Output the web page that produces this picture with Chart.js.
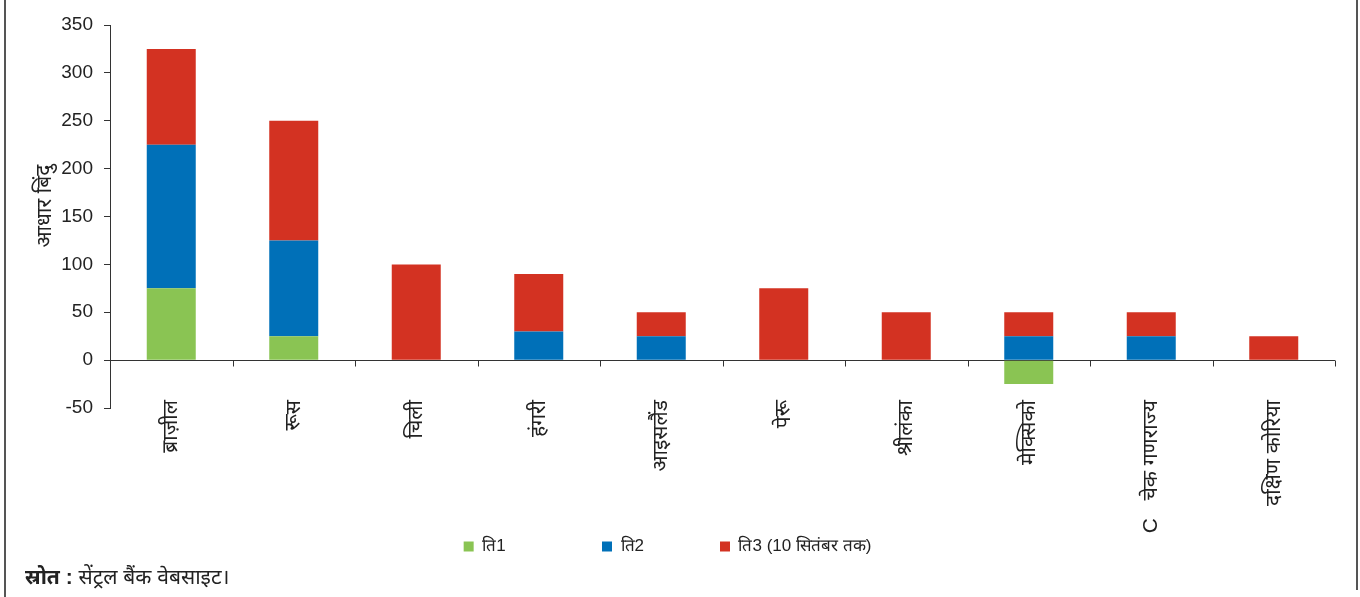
<!DOCTYPE html>
<html lang="hi">
<head>
<meta charset="utf-8">
<script src="https://cdn.jsdelivr.net/npm/chart.js@4/dist/chart.umd.min.js"></script>
<style>
  html, body { margin: 0; padding: 0; background: #ffffff; }
  #wrap { width: 1360px; height: 597px; position: relative; }
</style>
</head>
<body>
<div id="wrap"><canvas id="c" width="1360" height="597"></canvas></div>
<script>
// देश (श्रेणियाँ)
const countries = ['ब्राज़ील', 'रूस', 'चिली', 'हंगरी', 'आइसलैंड', 'पेरू', 'श्रीलंका', 'मेक्सिको', 'C   चेक गणराज्य', 'दक्षिण कोरिया'];

// तिमाहीवार नीतिगत दर परिवर्तन (आधार बिंदु)
const q1 = [75, 25, null, null, null, null, null, -25, null, null];
const q2 = [150, 100, null, 30, 25, null, null, 25, 25, null];
const q3 = [100, 125, 100, 60, 25, 75, 50, 25, 25, 25];

const seriesNames = ['ति1', 'ति2', 'ति3 (10 सितंबर तक)'];
const yTicks = { min: -50, max: 350, step: 50 };

const axisTitle = '\u2003आधार बिंदु';
const sourceBold = 'स्रोत :';
const sourceText = ' सेंट्रल बैंक वेबसाइट।';

const FONT = '"Liberation Sans", Arial, "Noto Sans", sans-serif';
const NARROW = '"Liberation Sans Narrow", "Liberation Sans", Arial, sans-serif';

// frame, zero-line ticks and source note
const decor = {
  id: 'decor',
  afterDraw(chart) {
    const { ctx, scales: { x, y } } = chart;
    ctx.save();
    // outer frame lines
    ctx.strokeStyle = '#555555';
    ctx.lineWidth = 2;
    ctx.beginPath();
    ctx.moveTo(5, 0); ctx.lineTo(5, chart.height);
    ctx.moveTo(1357, 0); ctx.lineTo(1357, chart.height - 7);
    ctx.stroke();

    // small ticks hanging below the zero line at category boundaries
    const y0 = Math.round(y.getPixelForValue(0)) + 0.5;
    ctx.strokeStyle = '#333333';
    ctx.lineWidth = 1;
    ctx.beginPath();
    const n = x.ticks.length;
    const step = x.getPixelForTick(1) - x.getPixelForTick(0);
    for (let i = 0; i < n; i++) {
      const bx = Math.round(x.getPixelForTick(i) + step / 2) + 0.5;
      ctx.moveTo(bx, y0);
      ctx.lineTo(bx, y0 + 6);
    }
    ctx.stroke();

    // source note
    ctx.fillStyle = '#222222';
    ctx.textBaseline = 'middle';
    ctx.font = 'bold 21px ' + FONT;
    ctx.fillText(sourceBold, 25, 578);
    const w = ctx.measureText(sourceBold).width;
    ctx.font = '21px ' + FONT;
    ctx.fillText(sourceText, 25 + w, 578);
    ctx.restore();
  }
};

// legend entry spacing
const legendGaps = ['\u2003\u2003\u2003\u2003\u2003\u2009', '\u2003\u2003\u2003\u2003', ''];

new Chart(document.getElementById('c'), {
  type: 'bar',
  data: {
    labels: countries,
    datasets: [
      { label: seriesNames[0], data: q1, backgroundColor: '#8AC453' },
      { label: seriesNames[1], data: q2, backgroundColor: '#0070B8' },
      { label: seriesNames[2], data: q3, backgroundColor: '#D33222' }
    ]
  },
  options: {
    responsive: false,
    animation: false,
    devicePixelRatio: 1,
    layout: { padding: { left: 0, right: 25, top: 25, bottom: 32 } },
    datasets: { bar: { categoryPercentage: 1, barPercentage: 0.4 } },
    plugins: {
      tooltip: { enabled: false },
      legend: {
        position: 'bottom',
        labels: {
          boxWidth: 10,
          boxHeight: 10,
          padding: 8,
          color: '#222222',
          font: { family: NARROW, size: 17 },
          generateLabels(chart) {
            const items = Chart.defaults.plugins.legend.labels.generateLabels(chart);
            items.forEach((it, i) => { it.text = it.text + legendGaps[i]; });
            return items;
          }
        }
      }
    },
    scales: {
      x: {
        stacked: true,
        border: { display: false },
        grid: { display: false },
        ticks: {
          autoSkip: false,
          minRotation: 90,
          maxRotation: 90,
          padding: -16,
          color: '#222222',
          font: { family: FONT, size: 21 }
        },
        afterFit(scale) {
          scale.height = 122;
          // let rotated labels run past the scale box
          scale._computeLabelArea = () => undefined;
        }
      },
      y: {
        stacked: true,
        min: yTicks.min,
        max: yTicks.max,
        border: { display: true, color: '#333333', width: 1 },
        grid: {
          drawOnChartArea: true,
          color: (c) => (c.tick && c.tick.value === 0 ? '#333333' : 'rgba(0,0,0,0)'),
          tickColor: '#333333',
          tickLength: 6
        },
        ticks: {
          stepSize: yTicks.step,
          padding: 11,
          color: '#222222',
          font: { family: FONT, size: 19 }
        },
        title: {
          display: true,
          text: axisTitle,
          color: '#222222',
          font: { family: FONT, size: 21 },
          padding: { top: 33, bottom: 0 }
        },
        afterFit(scale) { scale.width = 110; }
      }
    }
  },
  plugins: [decor]
});
</script>
</body>
</html>
